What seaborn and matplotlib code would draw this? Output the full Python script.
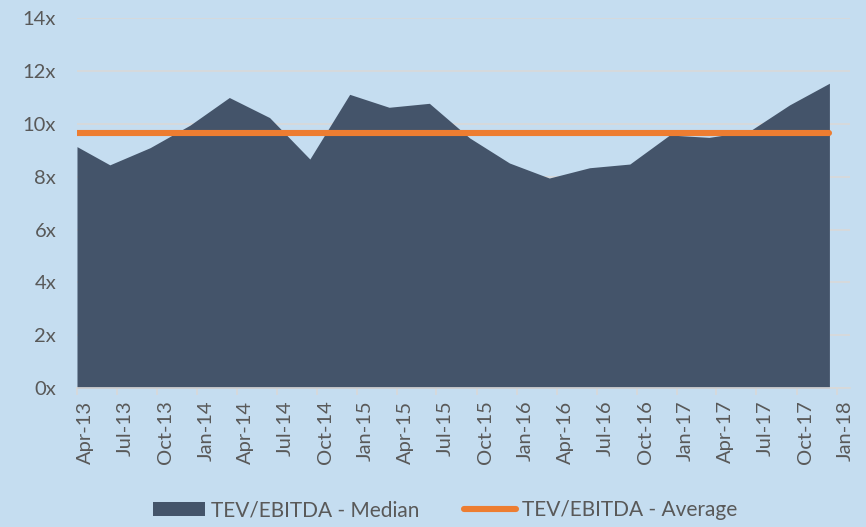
import pandas as pd
import matplotlib
matplotlib.use("Agg")
import matplotlib.pyplot as plt
import matplotlib.dates as mdates
from matplotlib.patches import Patch
from matplotlib.lines import Line2D
import seaborn as sns

# Data
dates = ["2013-04-01", "2013-06-15", "2013-09-15", "2013-12-15",
         "2014-03-15", "2014-06-15", "2014-09-15", "2014-12-15",
         "2015-03-15", "2015-06-15", "2015-09-15", "2015-12-15",
         "2016-03-15", "2016-06-15", "2016-09-15", "2016-12-15",
         "2017-03-15", "2017-06-15", "2017-09-15", "2017-12-15"]
median = [9.14, 8.45, 9.10, 9.95, 11.00, 10.24, 8.67, 11.12, 10.63, 10.78,
          9.47, 8.52, 7.95, 8.34, 8.48, 9.58, 9.49, 9.72, 10.72, 11.54]
average = 9.67
y_ticks = [0, 2, 4, 6, 8, 10, 12, 14]

df = pd.DataFrame({"date": pd.to_datetime(dates), "median": median})
df["average"] = average

bg = "#C5DDF0"
area_color = "#44546A"
line_color = "#ED7D31"
grid_color = "#D9D9D9"
text_color = "#595959"

sns.set_theme(style="whitegrid", rc={"axes.facecolor": bg, "figure.facecolor": bg})
plt.rcParams["font.family"] = ["Lato", "DejaVu Sans"]

fig = plt.figure(figsize=(8.66, 5.27), dpi=100)
ax = fig.add_axes([0.0889, 0.2638, 0.8926, 0.7015])

ax.fill_between(df["date"], df["median"], 0, color=area_color, linewidth=0, zorder=2)
sns.lineplot(data=df, x="date", y="average", ax=ax, color=line_color,
             linewidth=4.4, solid_capstyle="round", zorder=3)

ax.set_ylim(0, 14)
ax.set_yticks(y_ticks)
ax.set_yticklabels([f"{v}x" for v in y_ticks])
ax.set_xlim(pd.Timestamp("2013-04-01"), pd.Timestamp("2018-01-31"))
ax.xaxis.set_major_locator(mdates.MonthLocator(bymonth=[1, 4, 7, 10]))
ax.xaxis.set_major_formatter(mdates.DateFormatter("%b-%y"))

ax.grid(axis="y", color=grid_color, linewidth=1.2, zorder=0)
ax.grid(axis="x", visible=False)
for side in ["left", "right", "top"]:
    ax.spines[side].set_visible(False)
ax.spines["bottom"].set_color(grid_color)
ax.spines["bottom"].set_linewidth(1.2)
ax.spines["bottom"].set_zorder(4)

ax.tick_params(axis="x", which="major", direction="out", length=5, width=1.2,
               color=grid_color, bottom=True, labelsize=14.5, labelcolor=text_color,
               rotation=90, pad=4)
ax.tick_params(axis="y", length=0, labelsize=14.5, labelcolor=text_color, pad=15)
for lab in ax.get_xticklabels():
    lab.set_horizontalalignment("left")
ax.set_xlabel("")
ax.set_ylabel("")

handles = [Patch(facecolor=area_color, edgecolor="none"),
           Line2D([0], [0], color=line_color, linewidth=4.4, solid_capstyle="round")]
fig.legend(handles, ["TEV/EBITDA - Median", "TEV/EBITDA - Average"],
           loc="center", bbox_to_anchor=(0.514, 0.032), ncol=2, frameon=False,
           fontsize=15, labelcolor=text_color, handlelength=2.5, handleheight=0.65,
           handletextpad=0.3, columnspacing=2.1)

fig.savefig("out.png", dpi=100, facecolor=bg)
